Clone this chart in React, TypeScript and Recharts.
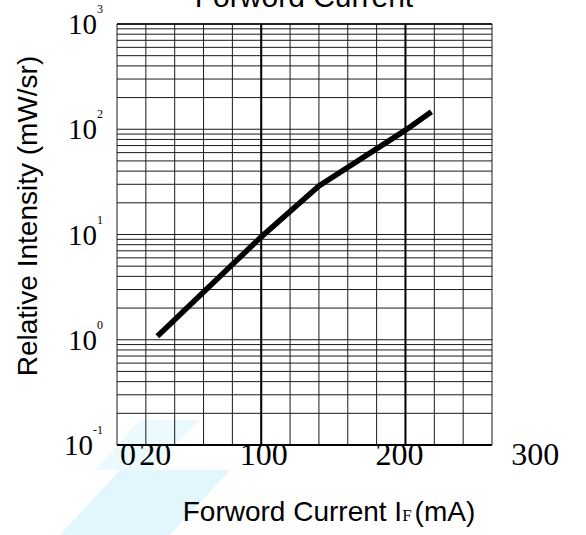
import React from 'react';
import { LineChart, Line, XAxis, YAxis, ReferenceLine } from 'recharts';

// Forward current (mA) and relative intensity (mW/sr)
const currentMA = [28, 100, 140, 200, 218];
const intensity = [1.08, 9.5, 29, 98, 147];

// grid / tick definitions
const gridXTicks = [0, 20, 40, 60, 80, 100, 120, 140, 160, 180, 200, 220, 240, 260];
const majorXLines = [100, 200];
const xLabelTicks = [0, 20, 100, 200, 300];
const decadeTicks = [0.1, 1, 10, 100, 1000];
const decadeExponents = ['-1', '0', '1', '2', '3'];
const minorMultipliers = [1, 2, 3, 4, 5, 6, 7, 8, 9];

const yGridTicks: number[] = [];
decadeTicks.slice(0, 4).forEach((d) => minorMultipliers.forEach((m) => yGridTicks.push(m * d)));
yGridTicks.push(1000);

const data = currentMA.map((x, i) => ({ x, y: intensity[i] }));

const SERIF = '"Liberation Serif", "Times New Roman", serif';
const SANS = '"Liberation Sans", Arial, sans-serif';

const YTick = (props: any) => {
  const { x, y, payload } = props;
  const v = payload.value;
  const idx = decadeTicks.findIndex((d) => Math.abs(Math.log10(d) - Math.log10(v)) < 1e-6);
  if (idx < 0) return null;
  return (
    <text x={x} y={y} textAnchor="end" fontFamily={SERIF} fill="#000">
      <tspan fontSize={29} dy={10}>10</tspan>
      <tspan fontSize={12} dy={-21}>{decadeExponents[idx]}</tspan>
    </text>
  );
};

export default function App() {
  return (
    <div style={{ position: 'absolute', left: 0, top: 0, width: 586, height: 535, background: '#fff' }}>
      <LineChart
        width={586}
        height={535}
        data={data}
        margin={{ top: 24, right: 94, bottom: 50, left: 0 }}
      >
        <XAxis
          xAxisId="grid"
          dataKey="x"
          type="number"
          domain={[0, 260]}
          ticks={gridXTicks}
          interval={0}
          allowDataOverflow
          height={0}
          tick={false}
          axisLine={false}
          tickLine={false}
        />
        <XAxis
          xAxisId="lab"
          dataKey="x"
          type="number"
          domain={[-8.1, 268.2]}
          ticks={xLabelTicks}
          interval={0}
          allowDataOverflow
          height={40}
          axisLine={false}
          tickLine={false}
          tickSize={0}
          tickMargin={-3}
          tick={{ fontFamily: SERIF, fontSize: 32, fill: '#000' }}
        />
        <YAxis
          type="number"
          scale="log"
          domain={[0.1, 1000]}
          ticks={yGridTicks}
          interval={0}
          allowDataOverflow
          width={117}
          axisLine={false}
          tickLine={false}
          tickSize={0}
          tickMargin={14}
          tick={<YTick />}
        />
        {/* faint background logo shapes */}
        <g opacity={0.45} pointerEvents="none">
          <polygon points="60,535 120,470 230,470 170,535" fill="#bfeefc" />
          <polygon points="95,470 140,420 200,420 150,470" fill="#d3f4fd" />
        </g>
        {yGridTicks.map((v) => (
          <ReferenceLine key={'h' + v} xAxisId="grid" y={v} stroke="#1a1a1a" strokeWidth={1} />
        ))}
        {gridXTicks.map((v) => (
          <ReferenceLine key={'v' + v} xAxisId="grid" x={v} stroke="#1a1a1a" strokeWidth={1} />
        ))}
        {majorXLines.map((v) => (
          <ReferenceLine key={'m' + v} xAxisId="grid" x={v} stroke="#000" strokeWidth={2} />
        ))}
        <ReferenceLine xAxisId="grid" y={0.1} stroke="#000" strokeWidth={2} />
        <ReferenceLine xAxisId="grid" y={1000} stroke="#000" strokeWidth={1.5} />
        <Line
          xAxisId="lab"
          type="linear"
          dataKey="y"
          stroke="none"
          strokeWidth={0}
          dot={false}
          activeDot={false}
          isAnimationActive={false}
        />
        <Line
          xAxisId="grid"
          type="linear"
          dataKey="y"
          stroke="#000"
          strokeWidth={5.5}
          dot={false}
          isAnimationActive={false}
        />
        <text x={304} y={7} textAnchor="middle" fontFamily={SANS} fontSize={30} fill="#000">
          Forword Current
        </text>
        <text
          x={37}
          y={216}
          textAnchor="middle"
          fontFamily={SANS}
          fontSize={28}
          fill="#000"
          transform="rotate(-90, 37, 216)"
        >
          Relative Intensity (mW/sr)
        </text>
        <text x={329} y={521} textAnchor="middle" fontFamily={SANS} fontSize={28} fill="#000">
          Forword Current I
          <tspan fontFamily={SERIF} fontSize={17}>F</tspan>
          <tspan dx={3}>(mA)</tspan>
        </text>
      </LineChart>
    </div>
  );
}
